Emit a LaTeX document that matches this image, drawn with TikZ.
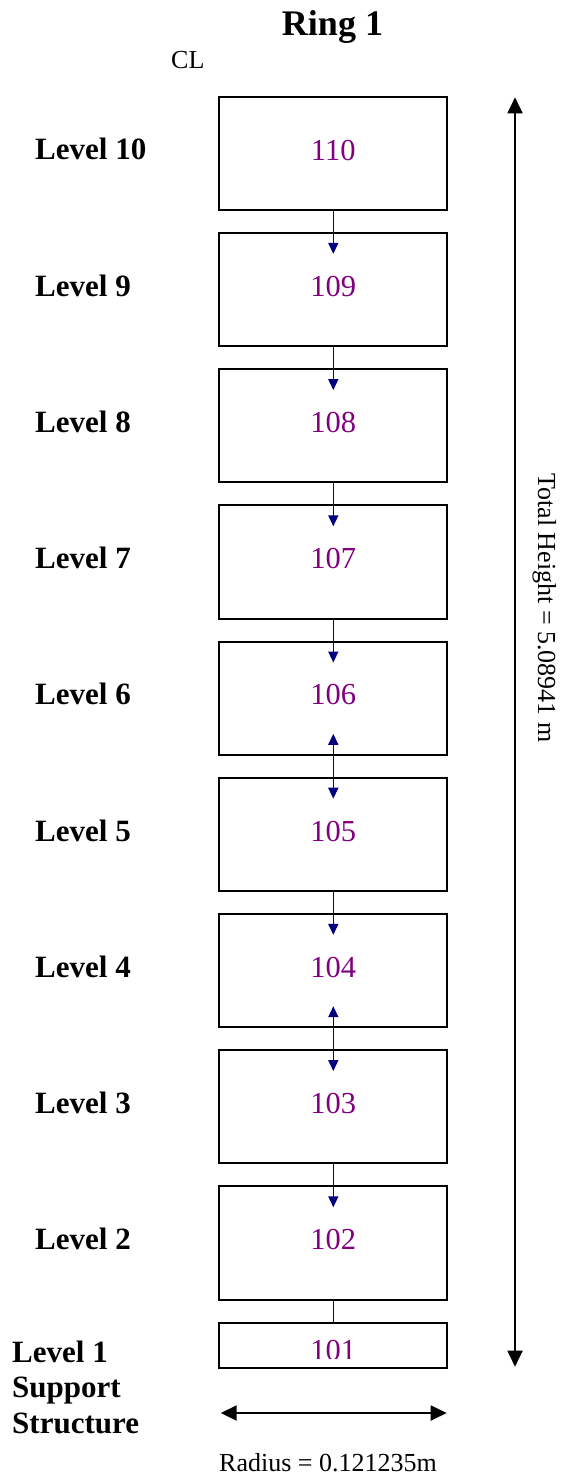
\documentclass[tikz,border=0pt]{standalone}
\usepackage{fontspec}
\setmainfont{Liberation Serif}
\usetikzlibrary{arrows.meta}
\definecolor{linknavy}{RGB}{0,0,128}
\definecolor{idpurple}{RGB}{128,0,128}
\tikzset{
  box/.style={draw=black, line width=2pt, minimum width=228pt, minimum height=113.3pt,
    inner sep=0pt, text height=20pt, text depth=6.4pt, text=idpurple,
    font=\fontsize{30.5}{34}\selectfont},
  lvl/.style={anchor=base west, inner sep=0pt, font=\fontsize{31}{35.5}\selectfont\bfseries},
  link/.style={draw=linknavy, line width=1.5pt},
  down/.style={link, -{Triangle[width=10pt,length=11pt]}},
  both/.style={link, {Triangle[width=10pt,length=11pt]}-{Triangle[width=10pt,length=11pt]}},
  dim/.style={draw=black, line width=1.9pt, {Triangle[width=15pt,length=16pt]}-{Triangle[width=15pt,length=16pt]}},
  note/.style={inner sep=0pt, font=\fontsize{26}{30}\selectfont}
}
\begin{document}
\begin{tikzpicture}[x=1pt, y=-1pt]
  \useasboundingbox (0,0) rectangle (560,1477);

  % title and centre-line mark
  \node[anchor=base, inner sep=0pt, font=\fontsize{36}{40}\selectfont\bfseries] (title) at (332.5,36) {Ring 1};
  \node[note, anchor=base west] (cl) at (171,69) {CL};

  % levels 2 to 10
  \foreach \L/\id in {2/102,3/103,4/104,5/105,6/106,7/107,8/108,9/109,10/110}{
    \pgfmathsetmacro\yc{153.35+(10-\L)*136.2}
    \node[box] (b\L) at (333.3,\yc) {\id};
    \node[lvl] (lab\L) at (35,\yc+6.65) {Level \L};
  }

  % level 1 (support structure)
  \node[box, minimum height=45pt] (b1) at (333.3,1345.2) {};
  \begin{scope}
    \clip (219.3,1322.7) rectangle (447.3,1358);
    \node[anchor=base, inner sep=0pt, text=idpurple, font=\fontsize{30.5}{34}\selectfont] (id1) at (333.3,1360.6) {101};
  \end{scope}
  \node[lvl, anchor=north west, align=left] (lab1) at (12,1340.5) {Level 1\\Support\\Structure};

  % links between levels
  \draw[down] (b10.south) -- ([yshift=-22pt]b9.north);
  \draw[down] (b9.south) -- ([yshift=-22pt]b8.north);
  \draw[down] (b8.south) -- ([yshift=-22pt]b7.north);
  \draw[down] (b7.south) -- ([yshift=-22pt]b6.north);
  \draw[both] ([yshift=22pt]b6.south) -- ([yshift=-22pt]b5.north);
  \draw[down] (b5.south) -- ([yshift=-22pt]b4.north);
  \draw[both] ([yshift=22pt]b4.south) -- ([yshift=-22pt]b3.north);
  \draw[down] (b3.south) -- ([yshift=-22pt]b2.north);
  \draw[link] (b2.south) -- (b1.north);

  % total height dimension
  \coordinate (htop) at (515,97.3);
  \coordinate (hbot) at (515,1366.7);
  \draw[dim] (hbot) -- (htop);
  \node[note, anchor=base, rotate=-90] (hlabel) at (538,608) {Total Height = 5.08941 m};

  % radius dimension
  \coordinate (rl) at (220.7,1413);
  \coordinate (rr) at (446.7,1413);
  \draw[dim] (rl) -- (rr);
  \node[note, anchor=base] (rlabel) at (328,1471) {Radius = 0.121235m};
\end{tikzpicture}
\end{document}
